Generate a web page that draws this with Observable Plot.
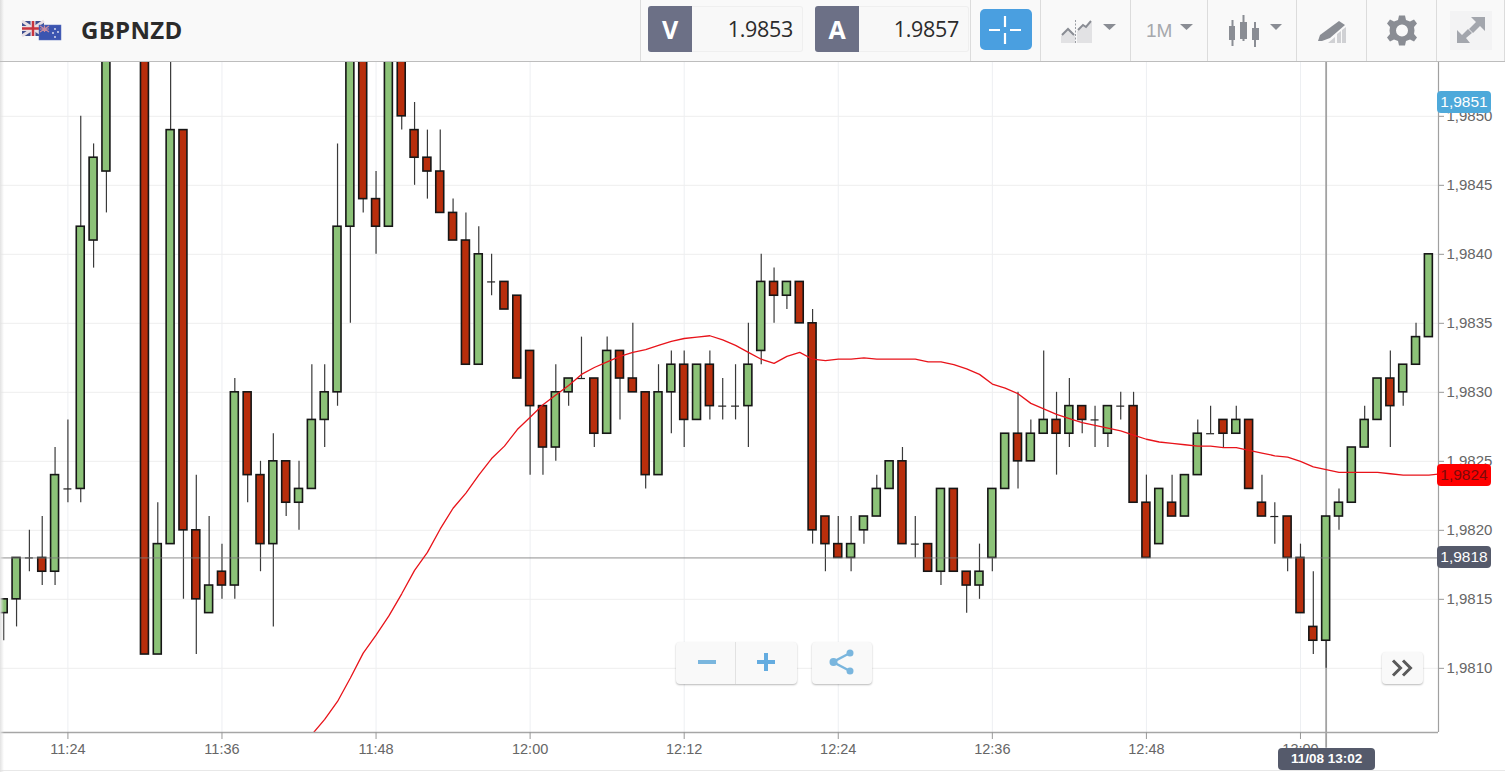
<!DOCTYPE html>
<html><head><meta charset="utf-8">
<script src="https://cdn.jsdelivr.net/npm/d3@7"></script>
<script src="https://cdn.jsdelivr.net/npm/@observablehq/plot@0.6"></script>
<style>
html,body{margin:0;padding:0;background:#fff;overflow:hidden;width:1505px;height:772px}
#page{position:relative;width:1505px;height:772px;overflow:hidden}
#head{position:absolute;left:0;top:0;width:1505px;height:61px;background:#f9f9f9;border-bottom:1px solid #bdbdbd;z-index:2}
#icons{position:absolute;left:0;top:0}
#chart{position:absolute;left:0;top:62px}
#chart svg{display:block}
.ab{position:absolute;box-sizing:border-box}
.sym{left:81px;top:13px;font:700 24px/34px "Open Sans",sans-serif;color:#2b2b2b;letter-spacing:.3px}
.lab{top:6px;width:44px;height:46px;background:#6c7086;border-radius:3px 0 0 3px;color:#fff;font:700 25px/46px "Open Sans",sans-serif;text-align:center}
.val{top:6px;height:46px;background:#f8f8f8;border:1px solid #efefef;border-left:0;border-radius:0 3px 3px 0;color:#2b2b2b;font:400 21.5px/44px "Open Sans",sans-serif;text-align:right;padding-right:9px;letter-spacing:-.3px}
.div{top:0;width:1px;height:61px;background:#dcdcdc}
.tag{left:1437px;width:54px;height:22px;border-radius:4px;font:15.5px/22px "Liberation Sans",Arial,sans-serif;text-align:center;color:#fff;z-index:3}
.btn{background:#f9f9f9;border-radius:4px;box-shadow:0 1px 2px rgba(0,0,0,.28);z-index:3}
</style></head><body>
<div id="page">
<div id="chart"></div>
<div id="head">
<svg id="icons" width="1505" height="61" viewBox="0 0 1505 61">
 <defs><linearGradient id="ls"><stop offset="0" stop-color="#ddd"/><stop offset="1" stop-color="#f9f9f9"/></linearGradient></defs>
 <rect width="4" height="61" fill="url(#ls)"/>
 <g>
  <rect x="22" y="21" width="22" height="15" fill="#3f4f8f"/>
  <path d="M22 21L44 36M44 21L22 36" stroke="#e8dfe4" stroke-width="3"/>
  <path d="M33 21V36M22 28.5H44" stroke="#e8dfe4" stroke-width="5"/>
  <path d="M33 21V36M22 28.5H44" stroke="#c8353f" stroke-width="2.4"/>
  <rect x="39" y="25" width="22" height="15" fill="#3c55b0" stroke="#5a6fc0" stroke-width=".5"/>
  <path d="M40 26l9 6M49 26l-9 6M44.5 25.5V32M40 29h9" stroke="#c98c9e" stroke-width="1.2"/>
  <circle cx="55" cy="29" r=".9" fill="#e8e8f4"/><circle cx="58" cy="32" r=".9" fill="#e8e8f4"/><circle cx="53" cy="33" r=".9" fill="#e8e8f4"/><circle cx="55" cy="37" r=".9" fill="#e8e8f4"/>
 </g>
 <rect x="980" y="9" width="52" height="41" rx="5" fill="#4a9fe0"/>
 <path d="M1005 16V27M1005 33V44M989 30H1000M1010 30H1021" stroke="#fff" stroke-width="2.2" fill="none"/>
 <path d="M1061 43V36L1068 28L1075 35V43Z" fill="#e2e2e4"/>
 <path d="M1077 43V31L1083 27L1092 22V43Z" fill="#e2e2e4"/>
 <path d="M1062 35L1068 29L1074 35" stroke="#8a8d94" stroke-width="2" fill="none"/>
 <path d="M1078 30L1083 25L1086 27L1091 21" stroke="#8a8d94" stroke-width="2" fill="none"/>
 <path d="M1075.5 20V44" stroke="#9a9da3" stroke-dasharray="2 1.5"/>
 <path d="M1103 24H1116L1109.5 30Z" fill="#8a8d94"/>
 <text x="1146" y="37" font-family="Liberation Sans,Arial,sans-serif" font-size="19" fill="#a6a8ac">1M</text>
 <path d="M1180 24H1193L1186.500 30Z" fill="#8a8d94"/>
 <g fill="#8a8d94" stroke="#8a8d94">
  <path d="M1232.500 20V46M1243.500 15V41M1255 22V47" stroke-width="2" fill="none"/>
  <rect x="1229" y="26" width="6" height="14" stroke="none"/><rect x="1240" y="22" width="7" height="17" stroke="none"/><rect x="1252" y="28" width="7" height="12" stroke="none"/>
 </g>
 <path d="M1270 24H1282L1276 30Z" fill="#8a8d94"/>
 <path d="M1318 41L1320 35L1339 21L1345 25L1330 38L1322 41Z" fill="#8a8d94"/>
 <path d="M1328 43L1335 37V43ZM1337 43V34L1341 31V43ZM1342 43V30L1346 27V43Z" fill="#d0d1d4"/>
 <g transform="translate(1402,30.5)" fill="#8a8d94">
  <path id="gr" fill-rule="evenodd" d="M-3-15H3L4-10.500 8-9 12-11 15-7 12-3.500 12.500 0 12 3.500 15 7 12 11 8 9 4 10.500 3 15H-3L-4 10.500-8 9-12 11-15 7-12 3.500-12.500 0-12-3.500-15-7-12-11-8-9-4-10.500ZM0-6A6 6 0 1 0 0 6A6 6 0 1 0 0-6Z"/>
 </g>
 <rect x="1450" y="11" width="42" height="39" fill="#f3f3f4"/>
 <g fill="#a3a6ad"><path d="M1471 17H1485V31L1480 26L1473 33L1469 29L1476 22Z"/><path d="M1457 43V30L1462 35L1468 29L1472 33L1466 38L1470 43Z"/></g>
</svg>
<div class="ab sym">GBPNZD</div>
<div class="ab div" style="left:640px"></div>
<div class="ab lab" style="left:648px">V</div><div class="ab val" style="left:692px;width:111px">1.9853</div>
<div class="ab lab" style="left:815px">A</div><div class="ab val" style="left:859px;width:110px">1.9857</div>
<div class="ab div" style="left:970px"></div><div class="ab div" style="left:1040px"></div><div class="ab div" style="left:1130px"></div>
<div class="ab div" style="left:1207px"></div><div class="ab div" style="left:1296px"></div><div class="ab div" style="left:1366px"></div>
<div class="ab div" style="left:1436px"></div><div class="ab div" style="left:1504px"></div>
</div>
<div class="ab" style="left:0;top:62px;width:4px;height:710px;background:linear-gradient(90deg,#e2e2e2,rgba(255,255,255,0));z-index:1"></div>
<div class="ab" style="left:0;top:770px;width:1505px;height:1px;background:#e8e8e8"></div>
<div class="ab btn" style="left:676px;top:642px;width:121px;height:42px">
 <svg width="121" height="42"><path d="M59.500 0V42" stroke="#e2e2e2"/><path d="M22 20H40" stroke="#7ab6de" stroke-width="4"/><path d="M81 20H99M90 11V29" stroke="#64ace0" stroke-width="4"/></svg>
</div>
<div class="ab btn" style="left:812px;top:642px;width:60px;height:42px">
 <svg width="60" height="42" ><path d="M38 11L21 20L38 29" stroke="#7ab6de" stroke-width="2.5" fill="none"/><circle cx="38" cy="11" r="3.500" fill="#7ab6de"/><circle cx="21.500" cy="20" r="4" fill="#7ab6de"/><circle cx="38" cy="29" r="3.500" fill="#7ab6de"/></svg>
</div>
<div class="ab btn" style="left:1382px;top:652px;width:41px;height:32px">
 <svg width="41" height="32"><path d="M11 8.500L18.500 16L11 23.500M21 8.500L28.500 16L21 23.500" stroke="#5a5a5a" stroke-width="3" fill="none"/></svg>
</div>
</div>
<script>
// One-minute candles, GBPNZD
const times = ["11:19","11:20","11:21","11:22","11:23","11:24","11:25","11:26","11:27",
"11:30","11:31","11:32","11:33","11:34","11:35","11:36","11:37","11:38","11:39",
"11:40","11:41","11:42","11:43","11:44","11:45","11:46","11:47","11:48","11:49",
"11:50","11:51","11:52","11:53","11:54","11:55","11:56","11:57","11:58","11:59",
"12:00","12:01","12:02","12:03","12:04","12:05","12:06","12:07","12:08","12:09",
"12:10","12:11","12:12","12:13","12:14","12:15","12:16","12:17","12:18","12:19",
"12:20","12:21","12:22","12:23","12:24","12:25","12:26","12:27","12:28","12:29",
"12:30","12:31","12:32","12:33","12:34","12:35","12:36","12:37","12:38","12:39",
"12:40","12:41","12:42","12:43","12:44","12:45","12:46","12:47","12:48","12:49",
"12:50","12:51","12:52","12:53","12:54","12:55","12:56","12:57","12:58","12:59",
"13:00","13:01","13:02","13:03","13:04","13:05","13:06","13:07","13:08","13:09","13:10"];
const opens = [1.9814,1.9815,1.9818,1.9818,1.9817,1.9823,1.9823,1.9841,1.9846,
1.9860,1.9811,1.9819,1.9849,1.9820,1.9814,1.9817,1.9816,1.9830,1.9824,
1.9819,1.9825,1.9822,1.9823,1.9828,1.9830,1.9842,1.9856,1.9844,1.9842,
1.9856,1.9849,1.9847,1.9846,1.9843,1.9841,1.9832,1.9838,1.9838,1.9837,
1.9833,1.9829,1.9826,1.9830,1.9831,1.9831,1.9827,1.9833,1.9831,1.9830,
1.9824,1.9830,1.9832,1.9828,1.9832,1.9829,1.9829,1.9829,1.9833,1.9838,
1.9837,1.9838,1.9835,1.9821,1.9819,1.9818,1.9820,1.9821,1.9823,1.9825,
1.9819,1.9819,1.9817,1.9823,1.9817,1.9816,1.9818,1.9823,1.9827,1.9825,
1.9827,1.9828,1.9827,1.9829,1.9828,1.9827,1.9829,1.9829,1.9822,1.9819,
1.9822,1.9821,1.9824,1.9827,1.9828,1.9827,1.9828,1.9822,1.9821,1.9821,
1.9818,1.9813,1.9812,1.9821,1.9822,1.9826,1.9828,1.9831,1.9830,1.9832,1.9834];
const highs = [1.9815,1.9818,1.9820,1.9821,1.9826,1.9828,1.9850,1.9848,1.9858,
1.9862,1.9822,1.9858,1.9849,1.9824,1.9821,1.9819,1.9831,1.9830,1.9825,
1.9827,1.9825,1.9825,1.9832,1.9832,1.9848,1.9858,1.9858,1.9846,1.9857,
1.9858,1.9851,1.9849,1.9849,1.9844,1.9843,1.9842,1.9840,1.9838,1.9837,
1.9833,1.9829,1.9832,1.9831,1.9834,1.9831,1.9834,1.9833,1.9835,1.9830,
1.9832,1.9833,1.9833,1.9832,1.9833,1.9831,1.9832,1.9835,1.9840,1.9839,
1.9838,1.9838,1.9836,1.9821,1.9821,1.9821,1.9821,1.9824,1.9825,1.9826,
1.9821,1.9819,1.9823,1.9823,1.9817,1.9819,1.9823,1.9827,1.9830,1.9828,
1.9833,1.9830,1.9831,1.9829,1.9829,1.9829,1.9830,1.9830,1.9824,1.9823,
1.9824,1.9824,1.9828,1.9829,1.9828,1.9829,1.9828,1.9824,1.9822,1.9821,
1.9819,1.9817,1.9821,1.9823,1.9826,1.9829,1.9831,1.9833,1.9832,1.9835,1.9840];
const lows = [1.9812,1.9813,1.9817,1.9816,1.9816,1.9822,1.9822,1.9839,1.9843,
1.9811,1.9811,1.9819,1.9815,1.9811,1.9814,1.9815,1.9815,1.9822,1.9817,
1.9813,1.9821,1.9820,1.9823,1.9826,1.9829,1.9835,1.9843,1.9840,1.9842,
1.9849,1.9845,1.9844,1.9843,1.9841,1.9832,1.9832,1.9837,1.9836,1.9831,
1.9824,1.9824,1.9825,1.9829,1.9831,1.9826,1.9827,1.9828,1.9830,1.9823,
1.9824,1.9827,1.9826,1.9828,1.9828,1.9828,1.9828,1.9826,1.9832,1.9835,
1.9836,1.9835,1.9819,1.9817,1.9818,1.9817,1.9819,1.9821,1.9823,1.9819,
1.9818,1.9817,1.9816,1.9817,1.9814,1.9815,1.9817,1.9823,1.9823,1.9825,
1.9827,1.9824,1.9826,1.9827,1.9826,1.9826,1.9828,1.9822,1.9818,1.9819,
1.9821,1.9821,1.9824,1.9827,1.9826,1.9827,1.9823,1.9821,1.9819,1.9817,
1.9814,1.9811,1.9810,1.9820,1.9822,1.9826,1.9828,1.9826,1.9829,1.9832,1.9834];
const closes = [1.9815,1.9818,1.9818,1.9817,1.9824,1.9823,1.9842,1.9847,1.9856,
1.9811,1.9819,1.9849,1.9820,1.9815,1.9816,1.9816,1.9830,1.9824,1.9819,
1.9825,1.9822,1.9823,1.9828,1.9830,1.9842,1.9856,1.9844,1.9842,1.9856,
1.9850,1.9847,1.9846,1.9843,1.9841,1.9832,1.9840,1.9838,1.9836,1.9831,
1.9829,1.9826,1.9830,1.9831,1.9831,1.9827,1.9833,1.9831,1.9830,1.9824,
1.9830,1.9832,1.9828,1.9832,1.9829,1.9829,1.9829,1.9832,1.9838,1.9837,
1.9838,1.9835,1.9820,1.9819,1.9818,1.9819,1.9821,1.9823,1.9825,1.9819,
1.9819,1.9817,1.9823,1.9817,1.9816,1.9817,1.9823,1.9827,1.9825,1.9827,
1.9828,1.9827,1.9829,1.9828,1.9828,1.9829,1.9829,1.9822,1.9818,1.9823,
1.9821,1.9824,1.9827,1.9827,1.9827,1.9828,1.9823,1.9821,1.9821,1.9818,
1.9814,1.9812,1.9821,1.9822,1.9826,1.9828,1.9831,1.9829,1.9832,1.9834,1.9840];
// Moving average, one value per minute from 11:43 to 13:11
const maStart = "11:43";
const maValues = [1.98052,1.98063,1.98076,1.98093,1.98111,1.98124,1.98138,1.98154,1.98171,1.98184,
1.98201,1.98216,1.98227,1.98240,1.98252,1.98261,1.98273,1.98282,1.98291,1.98298,
1.98305,1.98313,1.98318,1.98322,1.98326,1.98329,1.98331,1.98334,1.98337,1.98339,
1.98340,1.98341,1.98338,1.98334,1.98329,1.98324,1.98321,1.98326,1.98329,1.98324,
1.98323,1.98324,1.98324,1.98325,1.98324,1.98324,1.98324,1.98324,1.98322,1.98322,
1.98320,1.98317,1.98313,1.98306,1.98303,1.98299,1.98292,1.98288,1.98284,1.98281,
1.98278,1.98276,1.98274,1.98272,1.98269,1.98266,1.98264,1.98263,1.98262,1.98261,
1.98261,1.98260,1.98260,1.98258,1.98256,1.98254,1.98253,1.98250,1.98246,1.98244,
1.98242,1.98242,1.98242,1.98242,1.98241,1.98240,1.98240,1.98240,1.98241];
const xTicks = ["11:24","11:36","11:48","12:00","12:12","12:24","12:36","12:48","13:00"];
const yTicks = [1.9810,1.9815,1.9820,1.9825,1.9830,1.9835,1.9840,1.9845,1.9850];
const crossTime = "13:02", crossPrice = 1.9818, askTag = 1.9851, maTag = 1.9824;
const crossLabel = "11/08 13:02";

const parse = d3.utcParse("%H:%M"), parseS = d3.utcParse("%H:%M:%S");
const hm = d3.utcFormat("%H:%M");
const halfBody = 0.31 * 60000;
const candles = times.map((t,i)=>{const d=parse(t);return {t:d,a:new Date(+d-halfBody),b:new Date(+d+halfBody),o:opens[i],h:highs[i],l:lows[i],c:closes[i]};});
const bodies = candles.filter(d=>d.o!==d.c), dojis = candles.filter(d=>d.o===d.c);
const ma0 = +parse(maStart);
const ma = maValues.map((v,i)=>({t:new Date(ma0+i*60000),v}));
const xDomain = [parseS("11:18:45"),parseS("13:10:45")], yDomain=[1.980535,1.98539];
const fmtY = d=>d3.format(".4f")(d).replace(".",",");
const font = '"Liberation Sans",Arial,sans-serif';

const plot = Plot.plot({
  width:1505,height:710,marginTop:0,marginBottom:40,marginLeft:0,marginRight:67,
  style:{fontFamily:font,background:"transparent",overflow:"visible"},
  x:{type:"utc",domain:xDomain,range:[0,1438]},
  y:{domain:yDomain},
  marks:[
    Plot.gridX(xTicks.map(parse),{stroke:"#edeff2",strokeOpacity:1}),
    Plot.gridY(yTicks,{stroke:"#eeeeee",strokeOpacity:1}),
    Plot.ruleX([parse(crossTime)],{y1:yDomain[1],y2:1.98042,stroke:"#a2a2a2",strokeWidth:1.8}),
    Plot.ruleX(candles,{x:"t",y1:"l",y2:"h",stroke:"#3a3a3a",strokeWidth:1.2,clip:"frame"}),
    Plot.rect(bodies,{x1:"a",x2:"b",y1:"o",y2:"c",fill:d=>d.c>d.o?"#8cc278":"#b82e0c",stroke:"#161616",strokeWidth:1.6,clip:"frame"}),
    Plot.ruleY(dojis,{y:"c",x1:"a",x2:"b",stroke:"#222",strokeWidth:1.2}),
    Plot.ruleY([crossPrice],{x1:xDomain[0],x2:xDomain[1],stroke:"#7a7a7a",strokeWidth:1,strokeOpacity:.85}),
    Plot.line(ma,{x:"t",y:"v",stroke:"#e8131a",strokeWidth:1.3,clip:"frame"}),
    Plot.ruleX([xDomain[1]],{stroke:"#a0a0a0",strokeWidth:1.2}),
    Plot.ruleY([yDomain[0]],{stroke:"#a6a6a6",strokeWidth:1.5}),
    Plot.axisX(xTicks.map(parse),{anchor:"bottom",tickSize:7,tickPadding:4,tickFormat:hm,fontSize:14.5,color:"#666",stroke:"#999",label:null}),
    Plot.axisY(yTicks,{anchor:"right",tickSize:5,tickPadding:3,tickFormat:fmtY,fontSize:15,color:"#666",stroke:"#999",label:null})
  ]
});
document.getElementById("chart").appendChild(plot);
const page = document.getElementById("page");
const yS = plot.scale("y"), xS = plot.scale("x");
function tag(text,price,bg,col){
  const el=document.createElement("div");el.className="ab tag";el.textContent=text;
  el.style.top=(62+yS.apply(price)-11)+"px";el.style.background=bg;el.style.color=col;page.appendChild(el);
}
tag(fmtY(askTag),askTag,"#4ea9da","#fff");
tag(fmtY(maTag),maTag,"#fe0000","#7c0a0a");
tag(fmtY(crossPrice),crossPrice,"#555a6b","#fff");
const dt=document.createElement("div");dt.className="ab";dt.textContent=crossLabel;
Object.assign(dt.style,{left:(xS.apply(parse(crossTime))-47.5)+"px",top:"748px",width:"97px",height:"22px",background:"#555a6b",color:"#fff",borderRadius:"4px",font:'700 13.5px/22px '+font,textAlign:"center",zIndex:3});
page.appendChild(dt);
</script>
</body></html>
